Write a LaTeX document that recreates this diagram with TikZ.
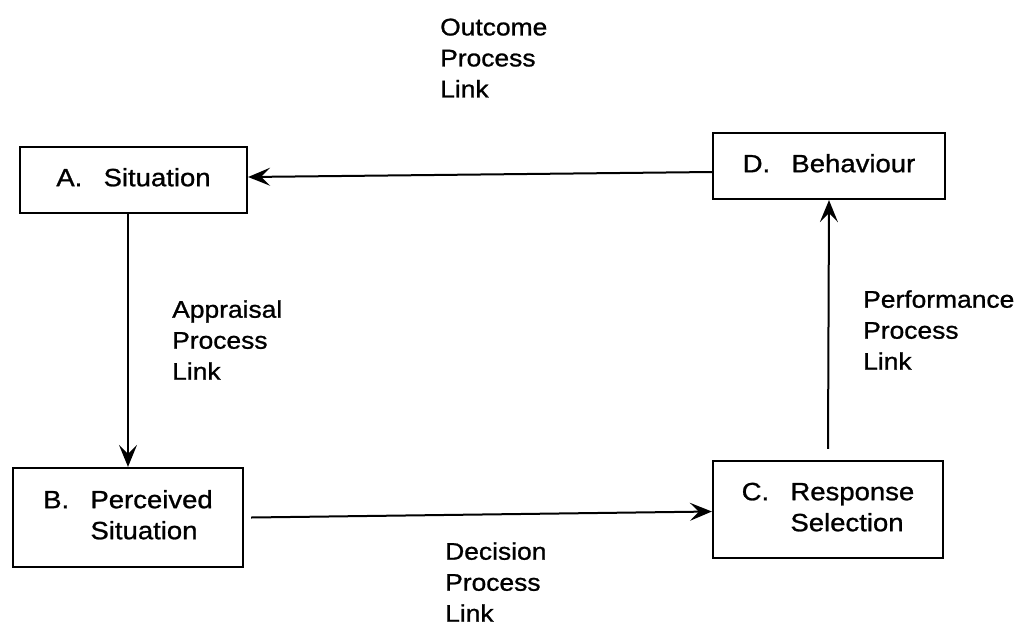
\documentclass[tikz,border=0pt]{standalone}
\usepackage{fontspec}
\setmainfont[FakeStretch=1.1, FakeBold=1]{Liberation Sans}
\usetikzlibrary{arrows.meta}

\newcommand{\stagetext}[2]{\begin{tabular}{@{}l@{\hspace{0.85em}}l@{}}#1 & #2\end{tabular}}

\begin{document}
\begin{tikzpicture}[x=1pt, y=-1pt,
        stagebox/.style={draw, line width=2.2pt, inner sep=0pt, font=\fontsize{25}{31}\selectfont},
        linklabel/.style={anchor=west, align=left, inner sep=0pt, font=\fontsize{24}{31}\selectfont},
        arr/.style={line width=2pt, -{Stealth[length=22pt, width=18pt, inset=9pt]}}]

    \useasboundingbox (0,0) rectangle (1020,625);

    % Stages
    \node[stagebox, minimum width=227pt, minimum height=66pt] (A) at (133.5,180) {\stagetext{A.}{Situation}};
    \node[stagebox, minimum width=232pt, minimum height=66pt] (D) at (829,166) {\stagetext{D.}{Behaviour}};
    \node[stagebox, minimum width=230pt, minimum height=99pt] (B) at (128,517.5) {\stagetext{B.}{Perceived\\ & Situation}};
    \node[stagebox, minimum width=230pt, minimum height=97pt] (C) at (828,509.5) {\stagetext{C.}{Response\\ & Selection}};

    % Process links
    \draw[arr] (A.south -| B.north) -- (B.north);
    \draw[arr] ([xshift=7pt]B.east) -- ([yshift=-2pt]C.west);
    \draw[arr] ([yshift=11pt]C.north) -- (D.south);
    \draw[arr] ([yshift=-6pt]D.west) -- ([yshift=3pt]A.east);

    % Labels
    \node[linklabel] (outcome) at (440,58) {Outcome\\Process\\Link};
    \node[linklabel] (appraisal) at (172,340) {Appraisal\\Process\\Link};
    \node[linklabel] (performance) at (863,330) {Performance\\Process\\Link};
    \node[linklabel] (decision) at (445,582) {Decision\\Process\\Link};

\end{tikzpicture}
\end{document}
